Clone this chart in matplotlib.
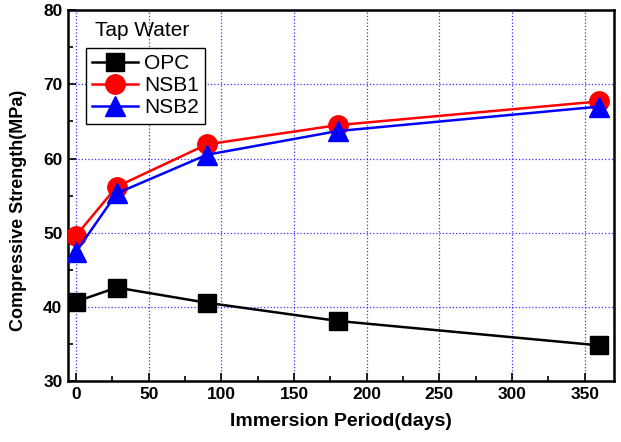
import matplotlib
matplotlib.use("Agg")
from matplotlib import pyplot as plt
from matplotlib.ticker import MultipleLocator

days = [0, 28, 90, 180, 360]
opc = [40.7, 42.6, 40.55, 38.1, 34.8]
nsb1 = [49.6, 56.2, 61.9, 64.5, 67.7]
nsb2 = [47.4, 55.3, 60.5, 63.7, 67.0]

plt.rcParams["font.family"] = ["Liberation Sans", "DejaVu Sans"]

fig = plt.figure(figsize=(6.21, 4.42), dpi=100)
ax = fig.add_axes([0.1095, 0.138, 0.879, 0.839])

ax.plot(days, opc, color="black", lw=1.8, marker="s", ms=13, label="OPC", zorder=3)
ax.plot(days, nsb1, color="red", lw=1.8, marker="o", ms=14, label="NSB1", zorder=3)
ax.plot(days, nsb2, color="blue", lw=1.8, marker="^", ms=15, label="NSB2", zorder=3)

ax.set_xlim(-5.5, 370)
ax.set_ylim(30, 80)
ax.xaxis.set_major_locator(MultipleLocator(50))
ax.xaxis.set_minor_locator(MultipleLocator(25))
ax.yaxis.set_major_locator(MultipleLocator(10))
ax.yaxis.set_minor_locator(MultipleLocator(5))
ax.tick_params(which="both", direction="in", top=False, right=False, width=1.2)
ax.tick_params(which="major", length=6, labelsize=12.5, pad=4)
ax.tick_params(which="minor", length=3.5)
for lab in ax.get_xticklabels() + ax.get_yticklabels():
    lab.set_fontweight("bold")

ax.grid(True, which="major", color="blue", linestyle=":", lw=0.9, alpha=0.8)
for s in ax.spines.values():
    s.set_linewidth(1.8)

ax.set_xlabel("Immersion Period(days)", fontsize=14, fontweight="bold", labelpad=8)
ax.set_ylabel("Compressive Strength(MPa)", fontsize=13, fontweight="bold")
ax.yaxis.set_label_coords(-0.075, 0.46)

ax.text(0.049, 0.946, "Tap Water", transform=ax.transAxes, fontsize=15, va="center", ha="left")
leg = ax.legend(loc="upper left", bbox_to_anchor=(0.033, 0.898), borderaxespad=0,
                fontsize=15, fancybox=False, edgecolor="black", framealpha=1,
                handlelength=2.2, handletextpad=0.3, labelspacing=0.15, borderpad=0.3)
leg.get_frame().set_linewidth(1.0)

fig.savefig("out.png", dpi=100)
